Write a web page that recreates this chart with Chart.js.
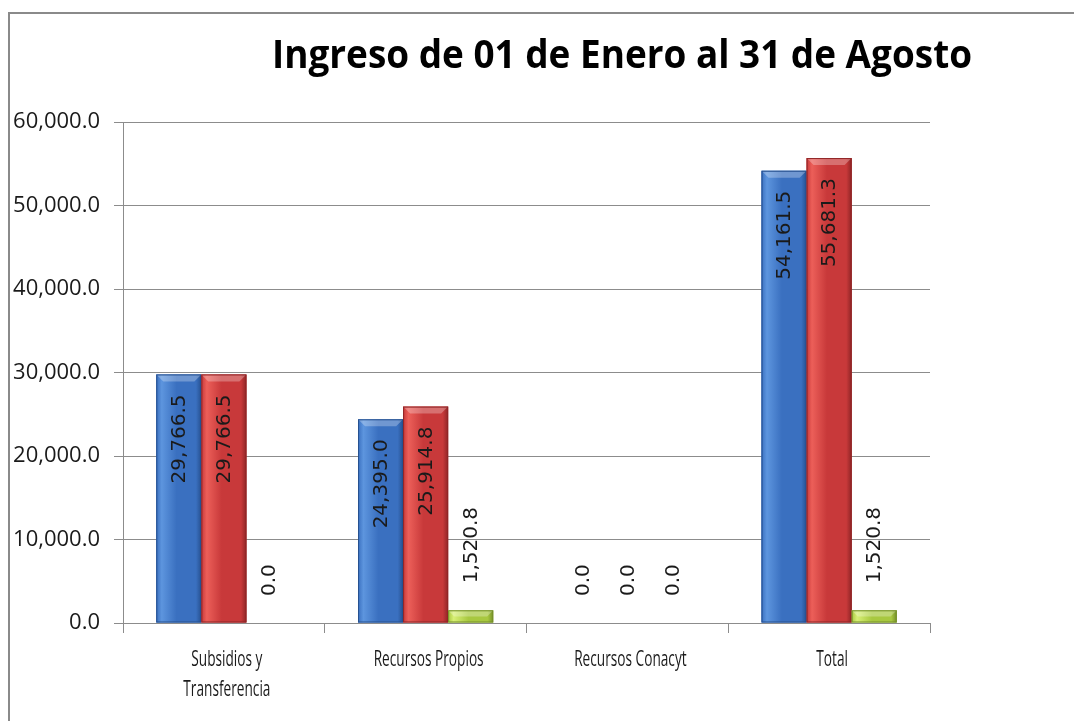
<!DOCTYPE html>
<html>
<head>
<meta charset="utf-8">
<script src="https://cdn.jsdelivr.net/npm/chart.js@4.4.0/dist/chart.umd.min.js"></script>
<style>
html, body { margin: 0; padding: 0; background: #fff; }
</style>
</head>
<body>
<canvas id="grafica" width="1074" height="721"></canvas>
<script>
// datos
var titulo = 'Ingreso de 01 de Enero al 31 de Agosto';
var categorias = [['Subsidios y', 'Transferencia'], 'Recursos Propios', 'Recursos Conacyt', 'Total'];
var serieAzul = [29766.5, 24395.0, 0.0, 54161.5];
var serieRoja = [29766.5, 25914.8, 0.0, 55681.3];
var serieVerde = [0.0, 1520.8, 0.0, 1520.8];
var ejeYMin = 0;
var ejeYMax = 60000;
var ejeYPaso = 10000;

// colores: [claro, medio, oscuro]
var colores = {
    azul: ['#5d95de', '#3a70c0', '#26508f'],
    roja: ['#ec5f59', '#c8393a', '#8f2526'],
    verde: ['#d7ef75', '#a8c840', '#75902a']
};

function fmt(v){
    return Number(v).toLocaleString('en-US', {minimumFractionDigits: 1, maximumFractionDigits: 1});
}

var marco = {
    id: 'marco',
    beforeDraw: function(chart){
        var c = chart.ctx;
        c.save();
        c.fillStyle = '#fff';
        c.fillRect(0, 0, chart.width, chart.height);
        c.strokeStyle = '#8a8a8a';
        c.lineWidth = 2;
        c.beginPath();
        c.moveTo(9, chart.height);
        c.lineTo(9, 13);
        c.lineTo(chart.width, 13);
        c.stroke();
        c.restore();
    }
};

var estiloBarras = {
    id: 'estiloBarras',
    afterDatasetsDraw: function(chart){
        var c = chart.ctx;
        chart.data.datasets.forEach(function(ds, i){
            var meta = chart.getDatasetMeta(i);
            var col = ds.tonos;
            meta.data.forEach(function(el){
                var p = el.getProps(['x', 'y', 'base', 'width'], true);
                var h = p.base - p.y;
                if(h <= 0.5) return;
                var l = p.x - p.width / 2, r = p.x + p.width / 2;
                c.save();
                var g = c.createLinearGradient(l, 0, r, 0);
                g.addColorStop(0, col[1]);
                g.addColorStop(0.12, col[0]);
                g.addColorStop(0.45, col[1]);
                g.addColorStop(0.88, col[1]);
                g.addColorStop(1, col[2]);
                c.fillStyle = g;
                c.fillRect(l, p.y, p.width, h);
                // bisel superior
                var b = Math.min(7, h / 2);
                c.fillStyle = 'rgba(255,255,255,0.28)';
                c.beginPath();
                c.moveTo(l, p.y);
                c.lineTo(r, p.y);
                c.lineTo(r - b, p.y + b);
                c.lineTo(l + b, p.y + b);
                c.closePath();
                c.fill();
                c.strokeStyle = col[2];
                c.lineWidth = 1;
                c.strokeRect(l + 0.5, p.y + 0.5, p.width - 1, h - 1);
                c.restore();
            });
        });
    }
};

var etiquetas = {
    id: 'etiquetas',
    afterDatasetsDraw: function(chart){
        var c = chart.ctx;
        c.save();
        c.font = '20px "DejaVu Sans"';
        c.fillStyle = '#1a1a1a';
        c.textBaseline = 'middle';
        chart.data.datasets.forEach(function(ds, i){
            var meta = chart.getDatasetMeta(i);
            meta.data.forEach(function(el, j){
                var p = el.getProps(['x', 'y', 'base'], true);
                var txt = fmt(ds.data[j]);
                var tw = c.measureText(txt).width;
                var h = p.base - p.y;
                c.save();
                if(h > tw + 40){
                    c.translate(p.x, p.y + 20);
                    c.rotate(-Math.PI / 2);
                    c.textAlign = 'right';
                } else {
                    c.translate(p.x, p.y - 27);
                    c.rotate(-Math.PI / 2);
                    c.textAlign = 'left';
                }
                c.fillText(txt, 0, 1);
                c.restore();
            });
        });
        c.restore();
    }
};

// etiquetas de categoria, algo comprimidas como en la imagen
var etiquetasX = {
    id: 'etiquetasX',
    afterDraw: function(chart){
        var c = chart.ctx;
        var sx = chart.scales.x;
        c.save();
        c.font = '21px "Open Sans"';
        c.fillStyle = '#1a1a1a';
        c.textAlign = 'center';
        c.textBaseline = 'alphabetic';
        var k = 110 / c.measureText('Recursos Propios').width;
        categorias.forEach(function(cat, i){
            var lineas = Array.isArray(cat) ? cat : [cat];
            var x = sx.getPixelForValue(i);
            lineas.forEach(function(t, n){
                c.save();
                c.translate(x + 3, sx.top + 43 + n * 30);
                c.scale(k, 1);
                c.fillText(t, 0, 0);
                c.restore();
            });
        });
        c.restore();
    }
};

var tituloPlugin = {
    id: 'tituloPlugin',
    afterDraw: function(chart){
        var c = chart.ctx;
        c.save();
        c.font = 'bold 39px "Open Sans"';
        c.fillStyle = '#000';
        var w = c.measureText(titulo).width;
        c.translate(622, 68);
        c.scale(700 / w, 1);
        c.textAlign = 'center';
        c.textBaseline = 'alphabetic';
        c.fillText(titulo, 0, 0);
        c.restore();
    }
};

var ctx = document.getElementById('grafica');
var chart = new Chart(ctx, {
    type: 'bar',
    data: {
        labels: categorias,
        datasets: [
            { label: 'Serie 1', data: serieAzul, backgroundColor: colores.azul[1], tonos: colores.azul },
            { label: 'Serie 2', data: serieRoja, backgroundColor: colores.roja[1], tonos: colores.roja },
            { label: 'Serie 3', data: serieVerde, backgroundColor: colores.verde[1], tonos: colores.verde }
        ]
    },
    options: {
        responsive: false,
        devicePixelRatio: 1,
        animation: false,
        layout: { padding: { left: 10, right: 144, top: 122, bottom: 0 } },
        datasets: { bar: { categoryPercentage: 0.67, barPercentage: 1.0 } },
        plugins: {
            legend: { display: false },
            tooltip: { enabled: false },
            title: { display: false }
        },
        scales: {
            x: {
                offset: true,
                grid: { display: true, offset: true, drawOnChartArea: false, color: '#8c8c8c', tickLength: 10 },
                border: { color: '#8c8c8c' },
                ticks: { display: false },
                afterFit: function(s){ s.height = 98; }
            },
            y: {
                min: ejeYMin,
                max: ejeYMax,
                grid: { color: '#8c8c8c', tickLength: 9 },
                border: { color: '#8c8c8c' },
                ticks: {
                    stepSize: ejeYPaso,
                    color: '#1a1a1a',
                    padding: 14,
                    font: { family: '"Open Sans"', size: 22 },
                    callback: function(v){ return fmt(v); }
                },
                afterFit: function(s){ s.width = 113; }
            }
        }
    },
    plugins: [marco, estiloBarras, etiquetas, etiquetasX, tituloPlugin]
});
</script>
</body>
</html>
